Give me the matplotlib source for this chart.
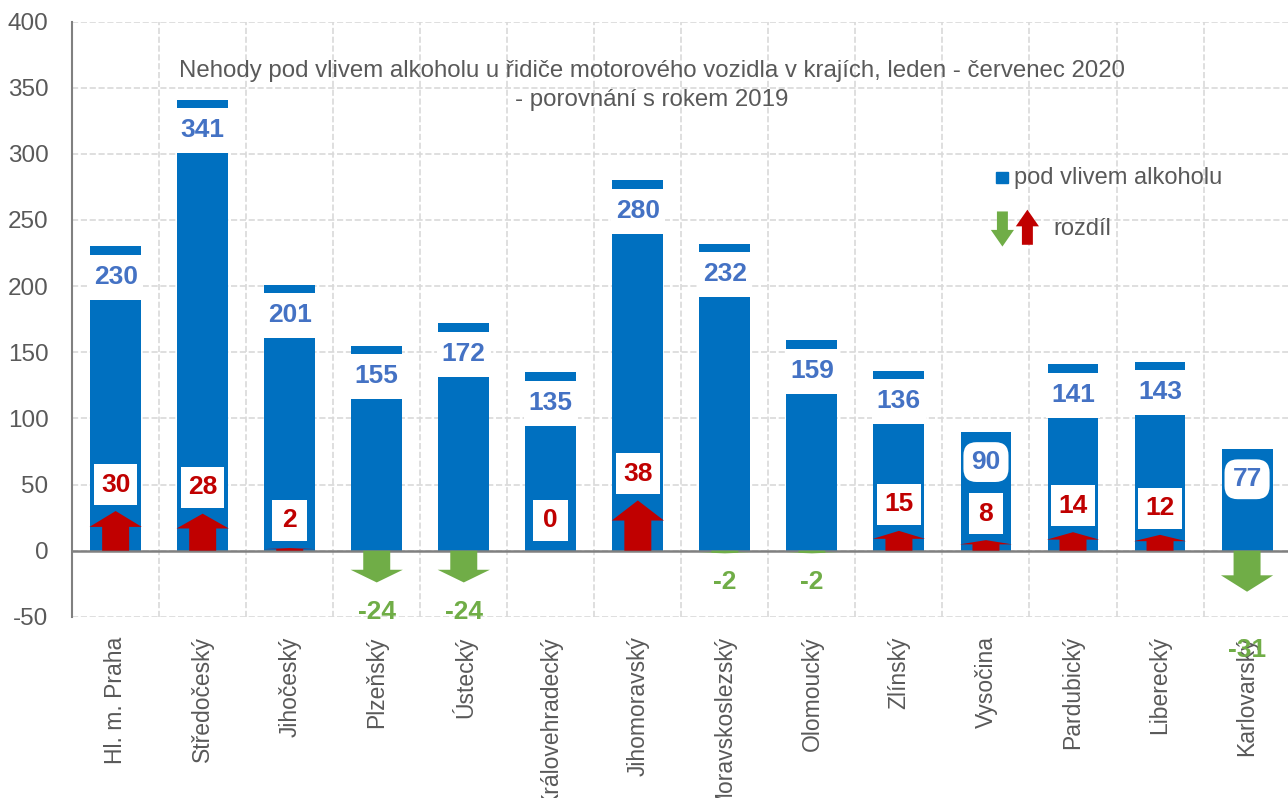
import matplotlib
matplotlib.use("Agg")
import matplotlib.pyplot as plt
from matplotlib.patches import Polygon, Rectangle

# === data ===
regions = ["Hl. m. Praha", "Středočeský", "Jihočeský", "Plzeňský", "Ústecký",
           "Královehradecký", "Jihomoravský", "Moravskoslezský", "Olomoucký",
           "Zlínský", "Vysočina", "Pardubický", "Liberecký", "Karlovarský"]
accidents = [230, 341, 201, 155, 172, 135, 280, 232, 159, 136, 90, 141, 143, 77]
diff = [30, 28, 2, -24, -24, 0, 38, -2, -2, 15, 8, 14, 12, -31]
y_ticks = [-50, 0, 50, 100, 150, 200, 250, 300, 350, 400]

BLUE = "#0070C0"
LBLUE = "#4472C4"
RED = "#C00000"
GREEN = "#70AD47"
GRAY = "#595959"

plt.rcParams['font.family'] = ['Liberation Sans', 'DejaVu Sans']

fig = plt.figure(figsize=(12.88, 7.98), dpi=100)
ax = fig.add_axes([0.056, 0.227, 0.946, 0.746])

x = list(range(len(regions)))
bw = 0.585
ax.bar(x, accidents, width=bw, color=BLUE, zorder=2)


def arrow(ax, xc, d, color):
    # block arrow from 0 to d, same width as the bar
    if d == 0:
        return
    s = 1 if d > 0 else -1
    h = 0.4 * abs(d)
    hw, sw = 0.30, 0.155
    base = d - s * h
    pts = [(xc - sw, 0), (xc - sw, base), (xc - hw, base), (xc, d),
           (xc + hw, base), (xc + sw, base), (xc + sw, 0)]
    ax.add_patch(Polygon(pts, closed=True, color=color, zorder=4, lw=0))


for i, (v, d) in enumerate(zip(accidents, diff)):
    # value label box cutting the top of the bar
    if v > 100:
        ax.add_patch(Rectangle((i - bw / 2 - 0.02, v - 40.5), bw + 0.04, 34,
                               color="white", zorder=3, lw=0))
        ax.text(i, v - 23, str(v), ha="center", va="center", fontsize=19,
                fontweight="bold", color=LBLUE, zorder=5)
    else:
        ax.text(i, v - 23, str(v), ha="center", va="center", fontsize=19,
                fontweight="bold", color=LBLUE, zorder=5,
                bbox=dict(boxstyle="round,pad=0.3,rounding_size=0.5",
                          fc="white", ec="none"))

    arrow(ax, i, d, RED if d > 0 else GREEN)
    if d >= 0:
        ly = max(d + 20, 23)
        w = 0.3 + 0.1 * len(str(d))
        ax.add_patch(Rectangle((i - w / 2, ly - 15.5), w, 31, color="white",
                               zorder=4.5, lw=0))
        ax.text(i, ly, str(d), ha="center", va="center",
                fontsize=19, fontweight="bold", color=RED, zorder=5)
    else:
        ax.text(i, d - 22 if d > -30 else d - 44, str(d), ha="center",
                va="center", fontsize=19, fontweight="bold", color=GREEN,
                zorder=5, clip_on=False)

ax.set_xlim(-0.5, len(regions) - 0.56)
ax.set_ylim(-50, 400)
ax.set_yticks(y_ticks)
ax.set_yticklabels([str(t) for t in y_ticks], fontsize=17.5, color=GRAY)
ax.set_xticks(x)
ax.set_xticklabels(regions, rotation=90, fontsize=16.5, color=GRAY)
ax.tick_params(axis="y", length=0, pad=17)
ax.tick_params(axis="x", length=0, pad=14)

# grid: dashed, vertical lines between categories
ax.set_xticks([i + 0.5 for i in x], minor=True)
ax.grid(True, axis="y", ls="--", color="#D9D9D9", lw=1.2, zorder=0)
ax.grid(True, axis="x", which="minor", ls="--", color="#D9D9D9", lw=1.2, zorder=0)
ax.tick_params(which="minor", length=0)

for sp in ["top", "right", "bottom"]:
    ax.spines[sp].set_visible(False)
ax.spines["left"].set_color("#808080")
ax.spines["left"].set_linewidth(1.5)
ax.axhline(0, color="#808080", lw=1.8, zorder=3)

ax.text(0.476, 0.892, "Nehody pod vlivem alkoholu u řidiče motorového vozidla v krajích, leden - červenec 2020\n- porovnání s rokem 2019",
        transform=ax.transAxes, ha="center", va="center", fontsize=17.3,
        color=GRAY, linespacing=1.4, zorder=6)

# legend drawn by hand
ax.add_patch(Rectangle((0.758, 0.728), 0.010, 0.020, transform=ax.transAxes,
                       color=BLUE, zorder=6, clip_on=False))
ax.text(0.773, 0.738, "pod vlivem alkoholu", transform=ax.transAxes,
        ha="left", va="center", fontsize=17, color=GRAY, zorder=6)


def legend_arrow(x0, y0, y1, color):
    hw, sw, h = 0.0095, 0.0045, 0.028
    s = 1 if y1 > y0 else -1
    b = y1 - s * h
    pts = [(x0 - sw, y0), (x0 - sw, b), (x0 - hw, b), (x0, y1),
           (x0 + hw, b), (x0 + sw, b), (x0 + sw, y0)]
    ax.add_patch(Polygon(pts, closed=True, color=color, transform=ax.transAxes,
                         zorder=6, lw=0, clip_on=False))


legend_arrow(0.7635, 0.681, 0.622, GREEN)
legend_arrow(0.784, 0.625, 0.684, RED)
ax.text(0.805, 0.651, "rozdíl", transform=ax.transAxes,
        ha="left", va="center", fontsize=17, color=GRAY, zorder=6)

fig.savefig("out.png", dpi=100)
